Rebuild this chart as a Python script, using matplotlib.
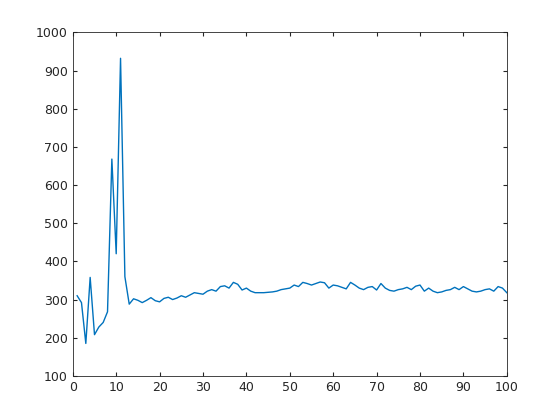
import matplotlib
matplotlib.use("Agg")
import matplotlib.pyplot as plt

x = list(range(1, 101))
y = [310, 292, 185, 358, 208, 228, 240, 268, 668, 420,
     932, 360, 288, 302, 298, 292, 298, 305, 297, 294,
     303, 306, 300, 304, 310, 306, 312, 318, 316, 314,
     322, 326, 322, 334, 336, 330, 345, 340, 325, 330,
     322, 318, 318, 318, 319, 320, 322, 326, 328, 330,
     338, 334, 345, 342, 338, 342, 346, 344, 330, 338,
     336, 332, 328, 345, 338, 330, 326, 332, 334, 325,
     342, 330, 324, 322, 326, 328, 332, 326, 335, 338,
     322, 330, 322, 318, 320, 324, 326, 332, 326, 334,
     328, 322, 320, 322, 326, 328, 322, 334, 330, 318]

fig = plt.figure(figsize=(5.6, 4.2), dpi=100)
ax = fig.add_axes([0.13, 0.105, 0.775, 0.818])
ax.plot(x, y, color="#0072BD", linewidth=1.0)
ax.set_xlim(0, 100)
ax.set_ylim(100, 1000)
ax.set_xticks(range(0, 101, 10))
ax.set_yticks(range(100, 1001, 100))
ax.tick_params(direction="in", labelsize=9, colors="#262626", top=True, right=True, length=3)
for s in ax.spines.values():
    s.set_color("#262626")
    s.set_linewidth(0.6)
fig.savefig("out.png", dpi=100)
